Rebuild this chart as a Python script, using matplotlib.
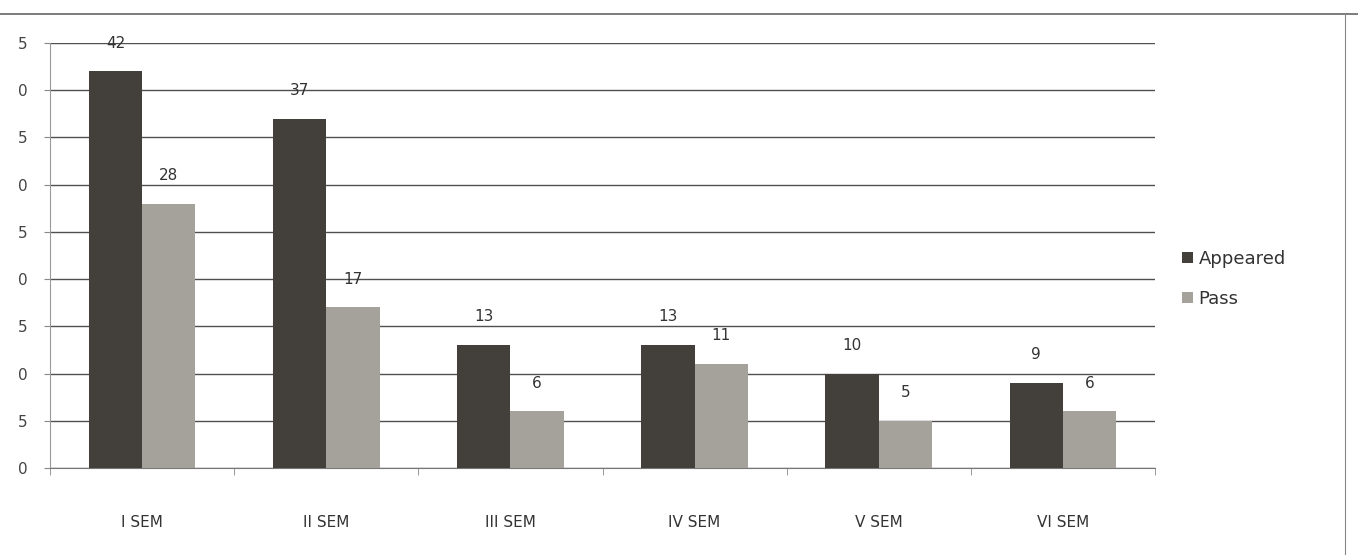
import numpy as np
import matplotlib.pyplot as plt

semestres = ["I SEM", "II SEM", "III SEM", "IV SEM", "V SEM", "VI SEM"]
appeared = [42, 37, 13, 13, 10, 9]
passed = [28, 17, 6, 11, 5, 6]
yticks = [0, 5, 10, 15, 20, 25, 30, 35, 40, 45]

cor_app = "#43403b"
cor_pass = "#a5a19b"

fig = plt.figure(figsize=(13.58, 5.55), dpi=100)
ax = fig.add_axes([50/1358, 87/555, 1105/1358, 425/555])

x = np.arange(len(semestres))
w = 0.29
b1 = ax.bar(x - w/2, appeared, w, color=cor_app, label="Appeared", zorder=3)
b2 = ax.bar(x + w/2, passed, w, color=cor_pass, label="Pass", zorder=3)

for barra, v in zip(b1, appeared):
    ax.text(barra.get_x() + barra.get_width()/2, v + 2.2, str(v),
            ha="center", va="bottom", fontsize=11, color="#333333")
for barra, v in zip(b2, passed):
    ax.text(barra.get_x() + barra.get_width()/2, v + 2.2, str(v),
            ha="center", va="bottom", fontsize=11, color="#333333")

ax.set_xlim(-0.5, len(semestres) - 0.5)
ax.set_ylim(0, 45)
ax.set_yticks(yticks)
# a imagem original esta cortada: so aparece o ultimo digito
ax.set_yticklabels([str(t)[-1] for t in yticks], fontsize=11, color="#444444")
ax.set_xticks(x)
ax.set_xticklabels(semestres, fontsize=11, color="#333333")
ax.tick_params(axis="x", length=0, pad=34)
ax.tick_params(axis="y", length=4, color="#888888", pad=12)
ax.set_xticks(np.arange(-0.5, len(semestres), 1), minor=True)
ax.tick_params(axis="x", which="minor", length=5, color="#888888")

ax.grid(axis="y", color="#505050", linewidth=1.0, zorder=0)
for lado in ["top", "right"]:
    ax.spines[lado].set_visible(False)
ax.spines["left"].set_color("#999999")
ax.spines["bottom"].set_color("#777777")

ax.legend(loc="center left", bbox_to_anchor=(1.01, 0.445), frameon=False,
          fontsize=13, handlelength=0.6, handleheight=0.6, handletextpad=0.3,
          labelspacing=1.2, labelcolor="#333333")

# moldura do grafico
fig.add_artist(plt.Line2D([0, 1], [1 - 14/555, 1 - 14/555], transform=fig.transFigure,
                          color="#666666", linewidth=1.2))
fig.add_artist(plt.Line2D([1345/1358, 1345/1358], [0, 1 - 14/555], transform=fig.transFigure,
                          color="#888888", linewidth=0.8))

fig.savefig("out.png", dpi=100)
